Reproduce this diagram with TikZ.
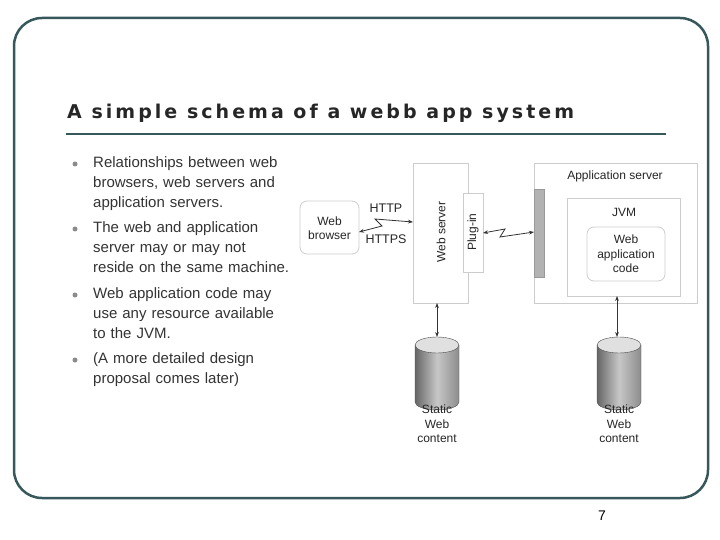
\documentclass[tikz,border=0pt]{standalone}
\usepackage{fontspec}
\setmainfont{Liberation Sans}
\newfontfamily\titlefont{DejaVu Sans}[LetterSpace=16]
\usetikzlibrary{arrows.meta}
\definecolor{frame}{RGB}{55,88,90}
\definecolor{boxline}{RGB}{205,205,205}
\newcommand{\dbcyl}[2]{% centre x, name
    \shade[left color=black!60, right color=black!45, middle color=black!22]
        (#1-22,345) -- (#1-22,402) arc[start angle=180, end angle=360, x radius=22, y radius=-8]
        -- (#1+22,345) -- cycle;
    \draw[black!70] (#1-22,345) -- (#1-22,402) arc[start angle=180, end angle=360, x radius=22, y radius=-8]
        -- (#1+22,345);
    \draw[black!70, fill=black!12] (#1,345) ellipse[x radius=22, y radius=8];
    \coordinate (#2) at (#1,337);
}
\begin{document}
\begin{tikzpicture} [
                x=1pt, y=-1pt,
                box/.style = {draw=boxline, fill=white, line width=0.8pt},
                rbox/.style = {box, rounded corners=7pt},
                lbl/.style = {font=\fontsize{12}{14.5}\selectfont, align=center, inner sep=0pt, text=black!85},
                bullet/.style = {circle, fill=black!45, inner sep=0pt, minimum size=5pt},
                item/.style = {anchor=north west, text width=225pt, align=left, inner sep=0pt,
                    font=\fontsize{15}{20.3}\selectfont, text=black!80},
                link/.style = {{Stealth[length=5pt]}-{Stealth[length=5pt]}, thick, black!80},
            ]
            \useasboundingbox (0,0) rectangle (720,540);
            % slide frame and title
            \draw[frame, line width=2.5pt, rounded corners=28pt] (14,18) rectangle (708,498);
            \node[anchor=west, inner sep=0pt, font=\titlefont\bfseries\fontsize{19}{22}\selectfont, text=black!85]
                (title) at (67,113) {A simple schema of a webb app system};
            \draw[frame, line width=2.5pt] (66,134) -- (666,134);
            % bullets
            \foreach \y/\name/\txt in {
                    156/i1/{Relationships between web\\browsers, web servers and\\application servers.},
                    221/i2/{The web and application\\server may or may not\\reside on the same machine.},
                    287/i3/{Web application code may\\use any resource available\\to the JVM.},
                    352/i4/{(A more detailed design\\proposal comes later)}} {
                \node[bullet] (b\name) at (75,\y+8) {};
                \node[item] (\name) at (93,\y) {\txt};
            }
            % boxes
            \draw[box] (413,163) rectangle (468,303);
            \node[lbl, rotate=90] (web) at (441,232) {Web server};
            \draw[box] (463,193) rectangle (483,272);
            \node[lbl, rotate=90] (plugin) at (473,232) {Plug-in};
            \draw[rbox] (300,201) rectangle (359,254);
            \node[lbl] (browser) at (329.5,228) {Web\\browser};
            \draw[box] (534,163) rectangle (697,303);
            \node[lbl] (appsrv) at (615,176) {Application server};
            \draw[fill=black!30, draw=black!40] (534,189) rectangle (544,277);
            \draw[box] (567,198) rectangle (680,296);
            \node[lbl] (jvm) at (624,212) {JVM};
            \draw[rbox] (587,227) rectangle (665,281);
            \node[lbl] (code) at (626,254) {Web\\application\\code};
            \node[lbl, font=\fontsize{12.5}{14}\selectfont] (http) at (386,208) {HTTP};
            \node[lbl, font=\fontsize{12.5}{14}\selectfont] (https) at (386,239) {HTTPS};
            % connectors
            \coordinate (c1) at (359,232); \coordinate (c2) at (413,222);
            \draw[link] (c1) -- (382,226) -- (375,219) -- (c2);
            \coordinate (c3) at (483,233); \coordinate (c4) at (534,232);
            \draw[link] (c3) -- (505,229) -- (500,237) -- (c4);
            % databases
            \dbcyl{437}{db1}
            \dbcyl{619}{db2}
            \node[lbl] (s1) at (437,424) {Static\\Web\\content};
            \node[lbl] (s2) at (619,424) {Static\\Web\\content};
            \coordinate (w1) at (437,303); \coordinate (w2) at (617,296);
            \draw[link] (w1) -- (db1);
            \draw[link] (w2) -- (617,337);
            \node[font=\fontsize{14}{16}\selectfont] (page) at (602,516) {7};
        \end{tikzpicture}
\end{document}
